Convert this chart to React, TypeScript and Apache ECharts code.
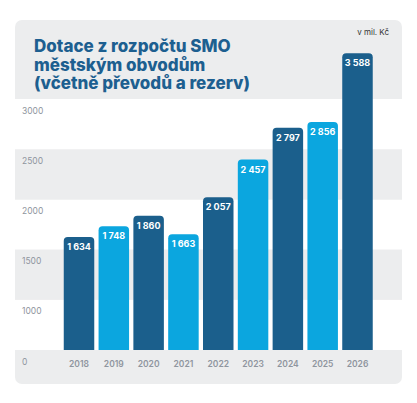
import React, { useEffect, useRef } from "react";
import * as echarts from "echarts";

const years = ["2018", "2019", "2020", "2021", "2022", "2023", "2024", "2025", "2026"];
const values = [1634, 1748, 1860, 1663, 2057, 2457, 2797, 2856, 3588];
const bandTickLabels = ["0", "1000", "1500", "2000", "2500", "3000"];
const titleLines = ["Dotace z rozpočtu SMO", "městským obvodům", "(včetně převodů a rezerv)"];
const unitText = "v mil. Kč";

const DARK = "#1b5f8c";
const LIGHT = "#0ba6df";
const PANEL = "#ecedee";
const FONT = "Inter, 'Open Sans', sans-serif";

const fmt = (v: number) => String(v).replace(/\B(?=(\d{3})+(?!\d))/g, "\u2009\u200a");

export default function App() {
  const ref = useRef<HTMLDivElement>(null);
  useEffect(() => {
    if (!ref.current) return;
    const chart = echarts.init(ref.current, undefined, { renderer: "svg" });
    chart.setOption({
      animation: false,
      color: [DARK, LIGHT],
      title: {
        text: titleLines.join("\n"),
        left: 34,
        top: 37,
        padding: 0,
        textStyle: {
          fontFamily: FONT,
          fontSize: 17,
          fontWeight: 800,
          color: "#1d5f90",
          lineHeight: 18.5,
        },
      },
      graphic: [
        {
          type: "rect",
          z: -10,
          shape: { x: 15, y: 20, width: 387, height: 364, r: 7 },
          style: { fill: PANEL },
          silent: true,
        },
        {
          type: "text",
          z: 10,
          x: 389,
          y: 32,
          style: {
            text: unitText,
            fill: "#333",
            fontSize: 8,
            fontFamily: FONT,
            align: "right",
            verticalAlign: "middle",
          },
        },
      ],
      grid: [
        { left: 61.6, width: 313.3, top: 40, bottom: 53 },
        { left: 15, right: 15, top: 99, bottom: 53 },
      ],
      xAxis: [
        {
          type: "category",
          gridIndex: 0,
          data: years,
          axisLine: { show: false },
          axisTick: { show: false },
          axisLabel: {
            margin: 9,
            fontSize: 8.5,
            fontWeight: 600,
            fontFamily: FONT,
            color: "#8f959e",
          },
        },
        { type: "value", gridIndex: 1, show: false, min: 0, max: 1 },
      ],
      yAxis: [
        { type: "value", gridIndex: 0, min: 430, max: 3730, show: false },
        {
          type: "value",
          gridIndex: 1,
          min: 500,
          max: 3000,
          interval: 500,
          axisLine: { show: false },
          axisTick: { show: false },
          splitLine: { show: false },
          splitArea: { show: true, areaStyle: { color: ["#ffffff", PANEL] } },
          axisLabel: {
            inside: true,
            margin: 7,
            verticalAlign: "top",
            padding: [7, 0, 0, 0],
            fontSize: 8.5,
            fontFamily: FONT,
            color: "#8f959e",
            showMinLabel: true,
            showMaxLabel: true,
            formatter: (_v: number, i: number) => bandTickLabels[i] ?? "",
          },
        },
      ],
      series: [
        {
          type: "bar",
          xAxisIndex: 0,
          yAxisIndex: 0,
          data: values,
          colorBy: "data",
          barWidth: 30.5,
          clip: true,
          z: 5,
          itemStyle: { borderRadius: [4, 4, 0, 0] },
          label: {
            show: true,
            position: "insideTop",
            distance: 5,
            color: "#ffffff",
            fontSize: 9,
            fontWeight: 700,
            fontFamily: FONT,
            formatter: (p: any) => fmt(p.value),
          },
        },
      ],
    });
    return () => chart.dispose();
  }, []);
  return (
    <div
      ref={ref}
      style={{ position: "fixed", left: 0, top: 0, width: 417, height: 403, background: "#fff" }}
    />
  );
}
